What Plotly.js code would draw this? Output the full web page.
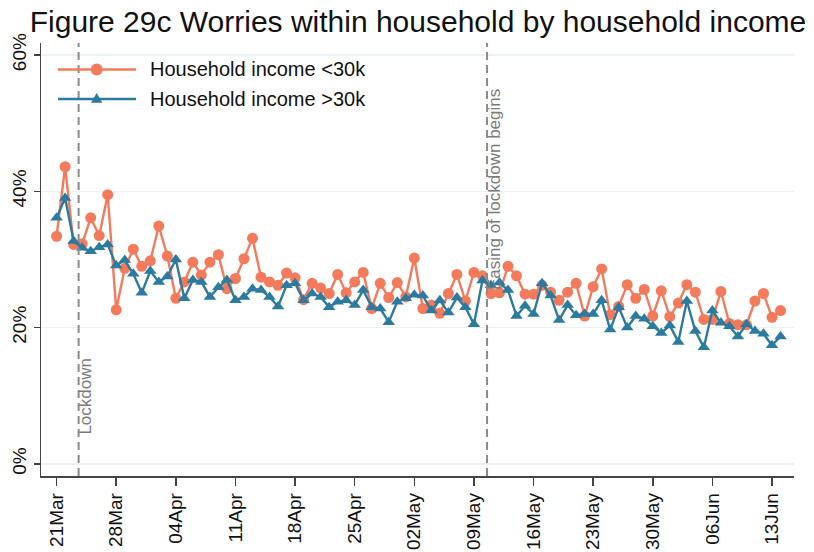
<!DOCTYPE html>
<html>
<head>
<meta charset="utf-8">
<script src="https://cdn.plot.ly/plotly-3.0.1.min.js"></script>
<style>html,body{margin:0;padding:0;background:#fff;}#chart{width:814px;height:552px;}</style>
</head>
<body>
<div id="chart"></div>
<script>
// ---- data (daily, starting 21 Mar 2020) ----
const startDate = '2020-03-21';
const incomeLow = [33.4,43.6,32.2,32.3,36.1,33.5,39.5,22.6,28.7,31.5,29.0,29.8,34.9,30.5,24.3,26.7,29.6,27.7,29.6,30.7,
  25.7,27.2,30.1,33.1,27.4,26.7,26.2,28.0,27.3,24.1,26.5,25.8,25.0,27.8,25.1,26.7,28.1,22.8,26.5,24.4,
  26.6,24.5,30.2,22.8,23.3,22.1,25.0,27.8,23.9,28.1,27.6,25.0,25.1,29.0,27.6,24.9,24.9,26.2,25.2,24.0,
  25.2,26.5,21.7,26.0,28.6,21.9,23.1,26.3,24.3,25.6,21.7,25.4,21.6,23.6,26.3,25.2,21.2,21.2,25.3,20.6,
  20.4,20.4,23.9,25.0,21.5,22.5];
const incomeHigh = [36.1,39.0,32.7,31.7,31.2,31.8,32.2,29.1,29.9,27.9,25.1,28.3,26.7,27.5,30.0,24.3,27.0,26.7,24.5,25.9,
  27.0,24.0,24.5,25.7,25.5,24.5,23.1,26.2,26.5,24.0,25.0,24.5,23.0,23.8,24.0,23.3,25.5,23.0,22.8,20.8,
  23.8,24.3,24.8,24.7,22.5,24.0,22.2,24.4,23.0,20.5,26.9,26.2,26.6,25.5,21.7,23.2,22.0,26.5,24.7,21.1,
  23.3,21.8,22.0,22.0,24.0,19.7,23.0,20.0,21.7,21.3,20.2,19.2,20.3,17.9,23.9,19.5,17.1,22.5,20.7,20.2,
  18.7,20.5,19.5,19.1,17.4,18.7];
const seriesNames = ['Household income <30k', 'Household income >30k'];
const tickDates = ['2020-03-21','2020-03-28','2020-04-04','2020-04-11','2020-04-18','2020-04-25','2020-05-02',
  '2020-05-09','2020-05-16','2020-05-23','2020-05-30','2020-06-06','2020-06-13'];
const tickLabels = ['21Mar','28Mar','04Apr','11Apr','18Apr','25Apr','02May','09May','16May','23May','30May','06Jun','13Jun'];
const yTicks = [0, 20, 40, 60];
const events = [
  {date: '2020-03-23 14:00', label: 'Lockdown'},
  {date: '2020-05-10 13:00', label: 'Easing of lockdown begins'}
];

function dayList(n) {
  const out = [];
  const d0 = new Date(startDate + 'T00:00:00Z');
  for (let i = 0; i < n; i++) {
    const d = new Date(d0.getTime() + i * 86400000);
    out.push(d.toISOString().slice(0, 10));
  }
  return out;
}
const dates = dayList(incomeLow.length);

const orange = '#f47a5c';
const blue = '#2c7b9e';
const font = 'Arial, "Liberation Sans", sans-serif';

// plot area geometry in pixels (for legend placement)
const W = 814, H = 552, L = 41, R = 20, T = 43, B = 76;
const pw = W - L - R, ph = H - T - B;
const px = x => (x - L) / pw;
const py = y => 1 - (y - T) / ph;

const traces = [
  {x: dates, y: incomeLow, name: seriesNames[0], type: 'scatter', mode: 'lines+markers',
   line: {color: orange, width: 2.4}, marker: {symbol: 'circle', size: 11, color: orange}, showlegend: false},
  {x: dates, y: incomeHigh, name: seriesNames[1], type: 'scatter', mode: 'lines+markers',
   line: {color: blue, width: 2.4}, marker: {symbol: 'triangle-up', size: 11, color: blue}, showlegend: false}
];

const shapes = [];
const annotations = [];
events.forEach((ev, i) => {
  shapes.push({type: 'line', xref: 'x', yref: 'paper', x0: ev.date, x1: ev.date, y0: 0, y1: 1,
    line: {color: '#8a8a8a', width: 2, dash: '8px,5px'}});
});
annotations.push({xref: 'x', yref: 'paper', x: events[0].date, y: py(396), xshift: 6, text: events[0].label,
  textangle: -90, showarrow: false, xanchor: 'center', yanchor: 'middle', font: {family: font, size: 17, color: '#7a7a7a'}});
annotations.push({xref: 'x', yref: 'paper', x: events[1].date, y: py(190), xshift: 7, text: events[1].label,
  textangle: -90, showarrow: false, xanchor: 'center', yanchor: 'middle', font: {family: font, size: 17, color: '#7a7a7a'}});

// custom legend
const legY = [69.5, 99];
const cols = [orange, blue];
for (let i = 0; i < 2; i++) {
  shapes.push({type: 'line', xref: 'paper', yref: 'paper', x0: px(58), x1: px(136), y0: py(legY[i]), y1: py(legY[i]),
    line: {color: cols[i], width: 2.4}});
  annotations.push({xref: 'paper', yref: 'paper', x: px(148), y: py(legY[i]), text: seriesNames[i], showarrow: false,
    xanchor: 'left', yanchor: 'middle', font: {family: font, size: 20, color: '#111'}});
}
shapes.push({type: 'circle', xref: 'paper', yref: 'paper', x0: px(90.7), x1: px(102.7), y0: py(75.5), y1: py(63.5),
  fillcolor: orange, line: {color: orange, width: 0}});
shapes.push({type: 'path', xref: 'paper', yref: 'paper',
  path: `M ${px(96.7)} ${py(93.0)} L ${px(91.0)} ${py(102.8)} L ${px(102.4)} ${py(102.8)} Z`,
  fillcolor: blue, line: {color: blue, width: 0}});

const layout = {
  width: W, height: H,
  margin: {l: L, r: R, t: T, b: B, pad: 0},
  paper_bgcolor: '#fff', plot_bgcolor: '#fff',
  font: {family: font, color: '#111'},
  title: {text: 'Figure 29c Worries within household by household income', xref: 'container', yref: 'container',
    x: 0.5135, xanchor: 'center', y: 1 - 21 / H, yanchor: 'middle', font: {family: font, size: 30, color: '#111'}},
  xaxis: {type: 'date', range: ['2020-03-19 04:00', '2020-06-15 14:00'], tickvals: tickDates, ticktext: tickLabels,
    tickangle: -90, ticks: 'outside', ticklen: 8, tickwidth: 1.5, tickcolor: '#444', showline: true, linecolor: '#444', linewidth: 1.5,
    showgrid: false, zeroline: false, tickfont: {family: font, size: 19, color: '#111'}},
  yaxis: {range: [-1.78, 61.76], tickvals: yTicks, ticktext: yTicks.map(v => v + '%'), tickangle: -90,
    ticks: 'outside', ticklen: 6, tickwidth: 1.5, tickcolor: '#444', showline: true, linecolor: '#444', linewidth: 1.5,
    showgrid: true, gridcolor: '#eaf2f3', gridwidth: 1.5, zeroline: false, tickfont: {family: font, size: 19, color: '#111'}},
  shapes: shapes,
  annotations: annotations,
  showlegend: false
};

Plotly.newPlot('chart', traces, layout, {displayModeBar: false, staticPlot: true});
</script>
</body>
</html>
